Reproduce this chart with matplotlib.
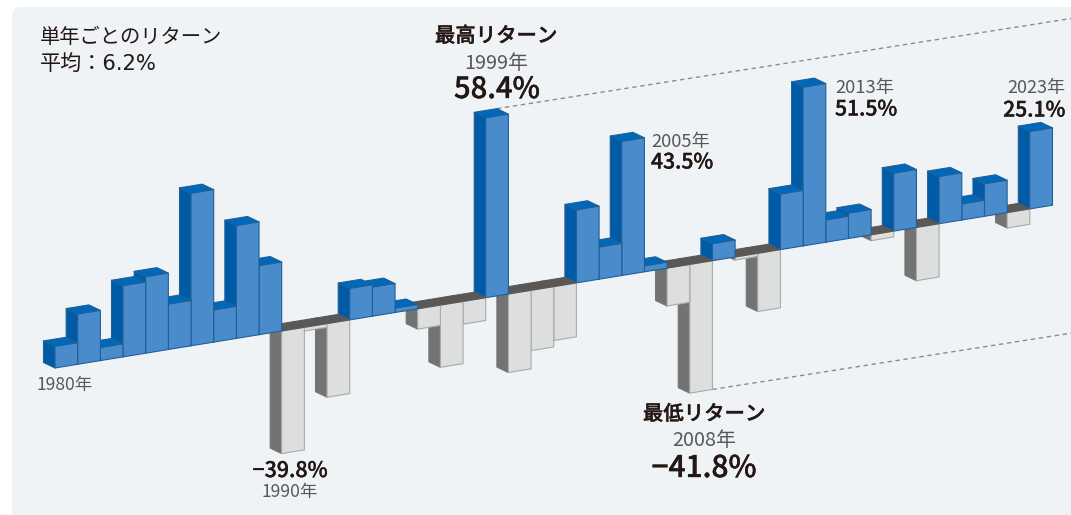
"""
単年リターンの立体棒グラフ (1980-2023年)。
基準線を右上がりに傾け、棒ごとに前面・側面・上面の3面を描く。
"""
import matplotlib
matplotlib.use("Agg")
import matplotlib.pyplot as plt
import matplotlib.patheffects as pe
from matplotlib.patches import FancyBboxPatch, Polygon

plt.rcParams["font.family"] = ["Noto Sans CJK JP", "DejaVu Sans"]

YEARS = list(range(1980, 2024))
RETURNS = [
    7.0, 16.3, 4.2, 23.1, 24.8, 14.7, 49.5, 10.4, 36.6, 22.4,
    -39.8, -1.2, -23.9, 10.2, 9.4, 1.4, -6.6, -20.2, -7.4, 58.4,
    -25.5, -19.6, -17.5, 23.7, 10.4, 43.5, 1.9, -12.3, -41.8, 5.5,
    -1.0, -18.9, 18.0, 51.5, 7.2, 8.2, -1.9, 18.8, -17.3, 15.3,
    5.2, 10.5, -5.0, 25.1,
]

# レイアウト (ピクセル単位)
X0, Y0 = 55.0, 368.0     # 1980年の棒の左下
BAR_W = 22.67
SLOPE = -0.1632          # 基準線の傾き
DASH_SLOPE = -0.157
PX_PER_PCT = 3.08
DEPTH_X, DEPTH_Y = -11.5, -5.5

# 配色
BG = "#f0f3f6"
C_POS_FRONT = "#4a8ccb"
C_POS_SIDE = "#005ba6"
C_POS_TOP = "#0068ba"
C_POS_EDGE = "#1f5f98"
C_NEG_FRONT = "#dddfde"
C_NEG_SIDE = "#737373"
C_NEG_TOP = "#5a5757"
C_NEG_EDGE = "#a9abaa"
C_TEXT = "#231815"
C_SUB = "#595757"
C_DASH = "#8c8c8c"


def pt(i, v):
    """i番目の棒の左端、値 v の位置"""
    x = X0 + BAR_W * i
    return x, Y0 + SLOPE * BAR_W * i - v * PX_PER_PCT


def back(p):
    return p[0] + DEPTH_X, p[1] + DEPTH_Y


def draw_bar(ax, i, v):
    bl, br = pt(i, 0), pt(i + 1, 0)
    tl, tr = pt(i, v), pt(i + 1, v)
    if v >= 0:
        faces = [([back(bl), bl, tl, back(tl)], C_POS_SIDE, C_POS_EDGE),
                 ([back(tl), tl, tr, back(tr)], C_POS_TOP, C_POS_EDGE),
                 ([bl, br, tr, tl], C_POS_FRONT, C_POS_EDGE)]
    else:
        faces = [([back(bl), bl, tl, back(tl)], C_NEG_SIDE, C_NEG_SIDE),
                 ([bl, br, tr, tl], C_NEG_FRONT, C_NEG_EDGE),
                 ([back(bl), bl, br, back(br)], C_NEG_TOP, C_NEG_TOP)]
    for verts, fc, ec in faces:
        ax.add_patch(Polygon(verts, closed=True, facecolor=fc, edgecolor=ec,
                             linewidth=0.8, joinstyle="round"))


def label(ax, x, y, s, size, color=C_TEXT, ha="center", **kw):
    return ax.text(x, y, s, fontsize=size, color=color, ha=ha, va="center", **kw)


def value(ax, x, y, s, size, ha="center"):
    # 数値と見出しは Medium に細い縁取りを足して少し太らせる
    t = label(ax, x, y, s, size, ha=ha, fontweight="medium")
    t.set_path_effects([pe.withStroke(linewidth=0.25, foreground=C_TEXT)])
    return t


fig = plt.figure(figsize=(10.71, 5.15), dpi=100)
ax = fig.add_axes([0, 0, 1, 1])
ax.set_xlim(0, 1071)
ax.set_ylim(515, 0)
ax.axis("off")

# 背景パネル (右端と下端は画像の外まで)
ax.add_patch(FancyBboxPatch((12, 7), 1100, 560,
                            boxstyle="round,pad=0,rounding_size=9",
                            facecolor=BG, edgecolor="none"))

# 最高・最低リターンの補助線
i_max, i_min = RETURNS.index(max(RETURNS)), RETURNS.index(min(RETURNS))
for i, v in ((i_max, RETURNS[i_max]), (i_min, RETURNS[i_min])):
    x, y = back(pt(i + 1, v)) if v > 0 else pt(i + 1, v)
    ax.plot([x, 1071], [y, y + DASH_SLOPE * (1071 - x)], color=C_DASH, lw=1.0,
            dashes=(3.2, 2.6), zorder=1)

# 左の棒が手前に来るので右から順に描く
for i in range(len(YEARS) - 1, -1, -1):
    draw_bar(ax, i, RETURNS[i])

label(ax, 40, 37.5, "単年ごとのリターン", 14.6, ha="left")
label(ax, 40, 63.5, "平均：6.2%", 15.2, ha="left",
      family=["DejaVu Sans", "Noto Sans CJK JP"])

value(ax, 496, 36, "最高リターン", 14.7)
label(ax, 496, 63.5, "1999年", 14.3, C_SUB)
value(ax, 497, 89.5, "58.4%", 21)

label(ax, 651, 142.5, "2005年", 13.2, C_SUB, ha="left")
value(ax, 651, 162.5, "43.5%", 15.2, ha="left")
label(ax, 835, 87.5, "2013年", 13.2, C_SUB, ha="left")
value(ax, 835, 109.5, "51.5%", 15.2, ha="left")
label(ax, 1065, 87.5, "2023年", 13.0, C_SUB, ha="right")
value(ax, 1065, 110.5, "25.1%", 15.2, ha="right")

value(ax, 704, 414, "最低リターン", 14.7)
label(ax, 704, 441, "2008年", 14.3, C_SUB)
value(ax, 704, 468.5, "−41.8%", 21.5)

value(ax, 290, 471, "−39.8%", 15.4)
label(ax, 290, 492, "1990年", 12.6, C_SUB)
label(ax, 65, 385, "1980年", 12.6, C_SUB)

fig.savefig("out.png", dpi=100)
plt.close(fig)
